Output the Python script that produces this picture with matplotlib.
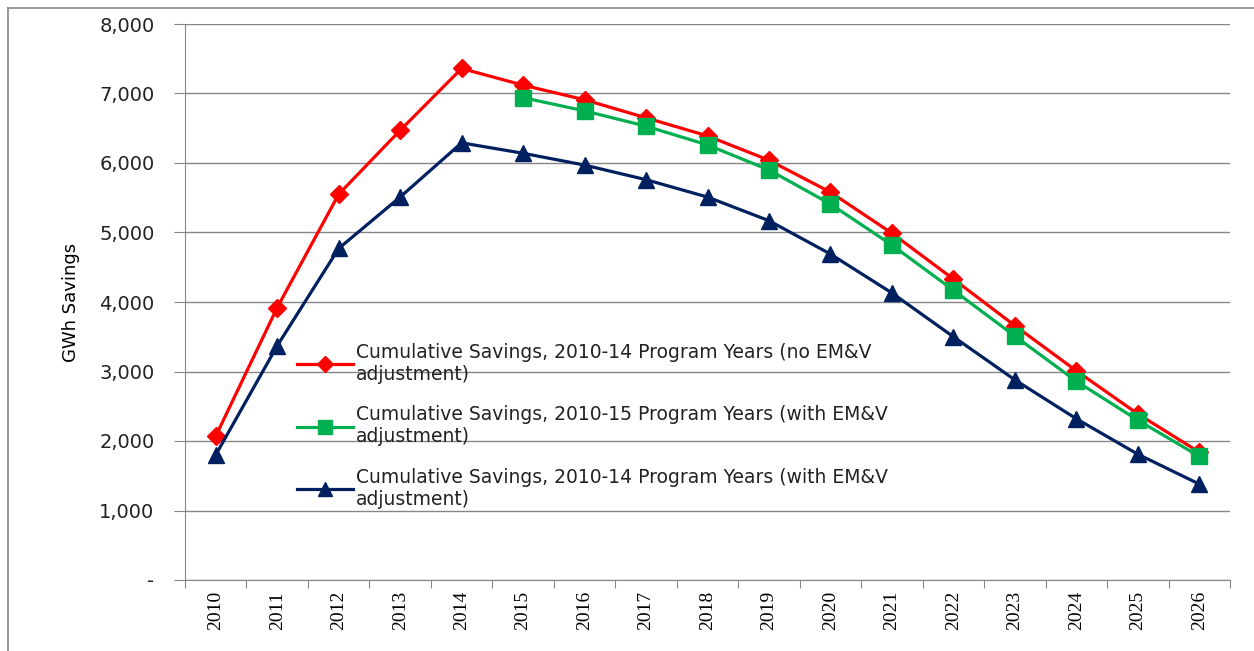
import numpy as np
import matplotlib
matplotlib.use("Agg")
import matplotlib.pyplot as plt
from matplotlib.lines import Line2D
from matplotlib.ticker import FuncFormatter

years = [str(y) for y in range(2010, 2027)]

no_emv_2014 = [2070, 3920, 5550, 6470, 7360, 7120, 6910, 6650, 6390, 6040,
               5580, 4990, 4330, 3660, 3010, 2390, 1840]
with_emv_2015 = [None, None, None, None, None, 6940, 6750, 6530, 6260, 5900,
                 5410, 4820, 4170, 3510, 2860, 2300, 1780]
with_emv_2014 = [1800, 3370, 4770, 5510, 6290, 6140, 5970, 5760, 5510, 5170,
                 4690, 4130, 3500, 2880, 2320, 1810, 1380]

labels = [
    "Cumulative Savings, 2010-14 Program Years (no EM&V\nadjustment)",
    "Cumulative Savings, 2010-15 Program Years (with EM&V\nadjustment)",
    "Cumulative Savings, 2010-14 Program Years (with EM&V\nadjustment)",
]

fig = plt.figure(figsize=(12.54, 6.51), dpi=100)
ax = fig.add_axes([185 / 1254, 1 - 580 / 651, (1230 - 185) / 1254, (580 - 24) / 651])

x = np.arange(len(years))
green = np.array([np.nan if v is None else v for v in with_emv_2015], dtype=float)

ax.plot(x, no_emv_2014, color="#ff0000", lw=2.3, marker="D", ms=9,
        label=labels[0], zorder=3)
ax.plot(x, green, color="#00b050", lw=2.3, marker="s", ms=11.5,
        label=labels[1], zorder=4)
ax.plot(x, with_emv_2014, color="#002060", lw=2.3, marker="^", ms=12,
        label=labels[2], zorder=5)

ax.set_xlim(-0.5, len(years) - 0.5)
ax.set_ylim(0, 8000)
ax.set_yticks(np.arange(0, 8001, 1000))
ax.yaxis.set_major_formatter(FuncFormatter(lambda v, p: "-" if v == 0 else f"{v:,.0f}"))
ax.tick_params(axis="y", length=8, color="#868686", labelsize=14, pad=14,
               labelcolor="#222222")
for t in ax.get_yticklabels():
    t.set_family("DejaVu Sans")

ax.set_xticks(np.arange(-0.5, len(years), 1))
ax.set_xticklabels([])
ax.set_xticks(x, minor=True)
ax.set_xticklabels(years, minor=True, rotation=90, fontsize=14,
                   family=["Liberation Serif", "DejaVu Serif"])
ax.tick_params(axis="x", which="major", length=6, color="#868686")
ax.tick_params(axis="x", which="minor", length=0, pad=8)

ax.grid(axis="y", color="#868686", lw=1)
ax.set_axisbelow(True)
for s in ["top", "right"]:
    ax.spines[s].set_visible(False)
for s in ["left", "bottom"]:
    ax.spines[s].set_color("#868686")

ax.set_ylabel("GWh Savings", fontsize=13,
              family=["Liberation Sans Narrow", "DejaVu Sans"])
ax.yaxis.set_label_coords(-0.1, 0.5)

leg = ax.legend(loc="upper left", bbox_to_anchor=(0.1, 0.44), frameon=False,
                fontsize=13.5, handlelength=3.0, handletextpad=0.15,
                labelspacing=1.15, borderaxespad=0, markerscale=0.85)
for t in leg.get_texts():
    t.set_family("DejaVu Sans")
    t.set_color("#222222")

# outer chart border
fig.add_artist(Line2D([8 / 1254, 8 / 1254], [0, 1 - 8 / 651], color="#888888", lw=1.2))
fig.add_artist(Line2D([8 / 1254, 1], [1 - 8 / 651, 1 - 8 / 651], color="#888888", lw=1.2))

fig.savefig("out.png", dpi=100)
